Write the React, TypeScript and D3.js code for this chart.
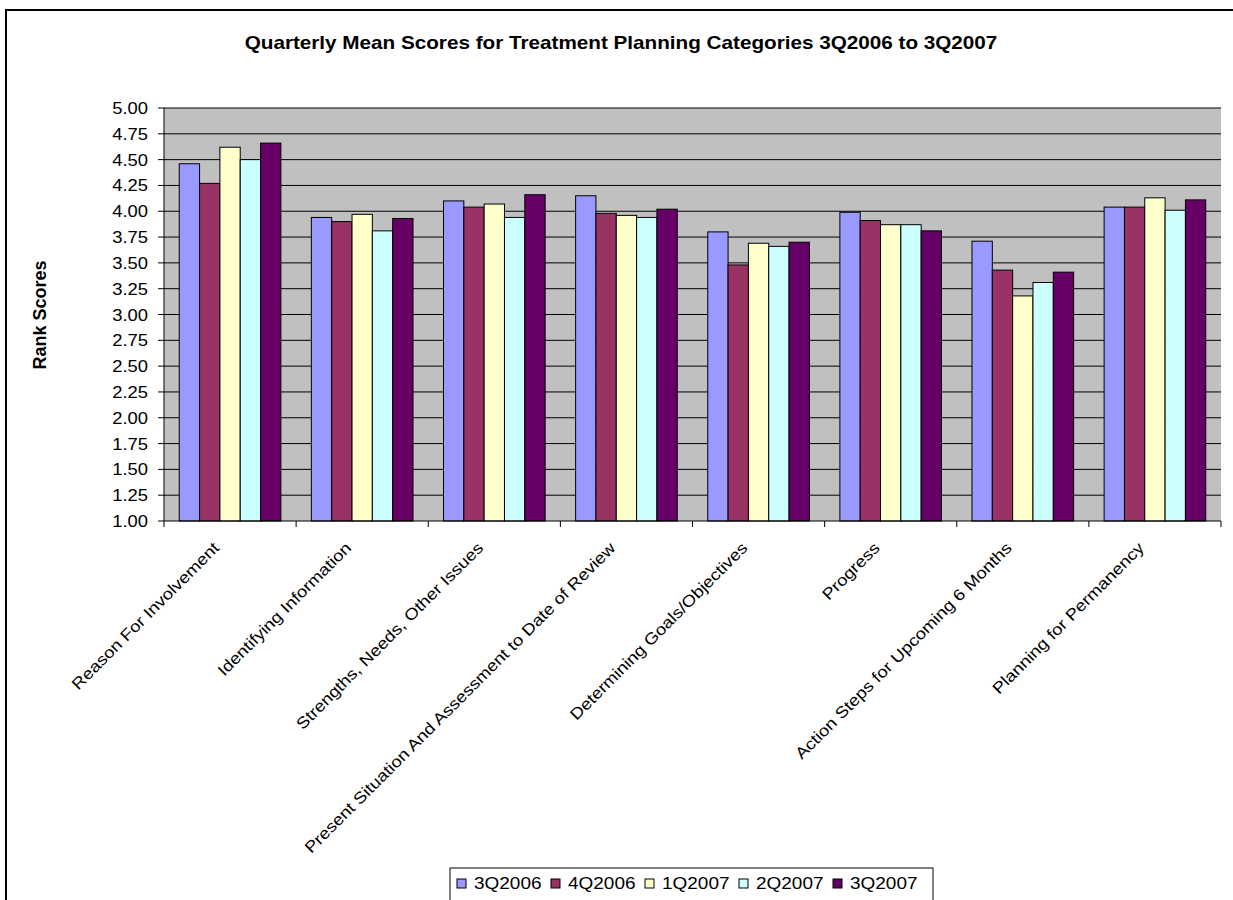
import React from "react";
import * as d3 from "d3";

const categories = [
  "Reason For Involvement",
  "Identifying Information",
  "Strengths, Needs, Other Issues",
  "Present Situation And Assessment to Date of Review",
  "Determining Goals/Objectives",
  "Progress",
  "Action Steps for Upcoming 6 Months",
  "Planning for Permanency",
];
const seriesNames = ["3Q2006", "4Q2006", "1Q2007", "2Q2007", "3Q2007"];
const seriesColors = ["#9999FF", "#993366", "#FFFFCC", "#CCFFFF", "#660066"];
const s3Q2006 = [4.46, 3.94, 4.1, 4.15, 3.8, 3.99, 3.71, 4.04];
const s4Q2006 = [4.27, 3.9, 4.04, 3.98, 3.48, 3.91, 3.43, 4.04];
const s1Q2007 = [4.62, 3.97, 4.07, 3.96, 3.69, 3.87, 3.18, 4.13];
const s2Q2007 = [4.5, 3.81, 3.94, 3.94, 3.66, 3.87, 3.31, 4.01];
const s3Q2007 = [4.66, 3.93, 4.16, 4.02, 3.7, 3.81, 3.41, 4.11];
const seriesValues = [s3Q2006, s4Q2006, s1Q2007, s2Q2007, s3Q2007];
const yTicks = d3.range(1, 5.001, 0.25);

const FONT = "'Liberation Sans', Arial, sans-serif";
const SX = 1.15;

export default function App() {
  const left = 164, right = 1221, top = 108, bottom = 521;
  const x = d3.scaleBand<string>().domain(categories).range([left, right]).padding(0);
  const xi = d3
    .scaleBand<string>()
    .domain(seriesNames)
    .range([0, x.bandwidth()])
    .paddingInner(0)
    .paddingOuter(0.75);
  const y = d3.scaleLinear().domain([1, 5]).range([bottom, top]);

  const legendX = [457, 551, 645, 739, 833];

  return (
    <svg
      width={1233}
      height={900}
      style={{ position: "absolute", left: 0, top: 0, background: "#fff" }}
      fontFamily={FONT}
    >
      <rect x={6} y={10} width={1260} height={1000} fill="#fff" stroke="#000" strokeWidth={2} />
      <text
        transform={`translate(621,49) scale(${SX},1)`}
        textAnchor="middle"
        fontSize={18}
        fontWeight="bold"
      >
        Quarterly Mean Scores for Treatment Planning Categories 3Q2006 to 3Q2007
      </text>

      <rect x={left} y={top} width={right - left} height={bottom - top} fill="#C0C0C0" />
      {yTicks.map((t, i) => (
        <g key={i}>
          {t > 1 && (
            <line x1={left} x2={right} y1={y(t)} y2={y(t)} stroke="#000" strokeWidth={1} />
          )}
          <line x1={left - 6} x2={left} y1={y(t)} y2={y(t)} stroke="#000" />
          <text
            transform={`translate(${left - 16},${y(t) + 6}) scale(${SX},1)`}
            textAnchor="end"
            fontSize={16}
          >
            {t.toFixed(2)}
          </text>
        </g>
      ))}

      {categories.map((c, ci) => (
        <g key={c}>
          {seriesNames.map((s, si) => (
            <rect
              key={s}
              x={(x(c) as number) + (xi(s) as number)}
              y={y(seriesValues[si][ci])}
              width={xi.bandwidth()}
              height={bottom - y(seriesValues[si][ci])}
              fill={seriesColors[si]}
              stroke="#000"
              strokeWidth={1}
            />
          ))}
        </g>
      ))}

      <line x1={left} x2={left} y1={top} y2={bottom} stroke="#000" />
      <line x1={left} x2={right} y1={bottom} y2={bottom} stroke="#000" />
      {d3.range(categories.length + 1).map((i) => {
        const xx = left + i * x.step();
        return <line key={i} x1={xx} x2={xx} y1={bottom} y2={bottom + 6} stroke="#000" />;
      })}

      {categories.map((c) => {
        const cx = (x(c) as number) + x.bandwidth() / 2;
        return (
          <text
            key={c}
            transform={`translate(${cx - 10},${bottom + 28}) rotate(-45) scale(${SX},1)`}
            textAnchor="end"
            fontSize={16}
          >
            {c}
          </text>
        );
      })}

      <text
        transform={`translate(46,315) rotate(-90)`}
        textAnchor="middle"
        fontSize={18}
        fontWeight="bold"
      >
        Rank Scores
      </text>

      <rect x={450} y={868} width={483} height={40} fill="#fff" stroke="#000" strokeWidth={1} />
      {seriesNames.map((s, i) => (
        <g key={s}>
          <rect x={legendX[i]} y={879} width={9} height={9} fill={seriesColors[i]} stroke="#000" />
          <text
            transform={`translate(${legendX[i] + 17},889) scale(${SX},1)`}
            fontSize={16.5}
          >
            {s}
          </text>
        </g>
      ))}
    </svg>
  );
}
